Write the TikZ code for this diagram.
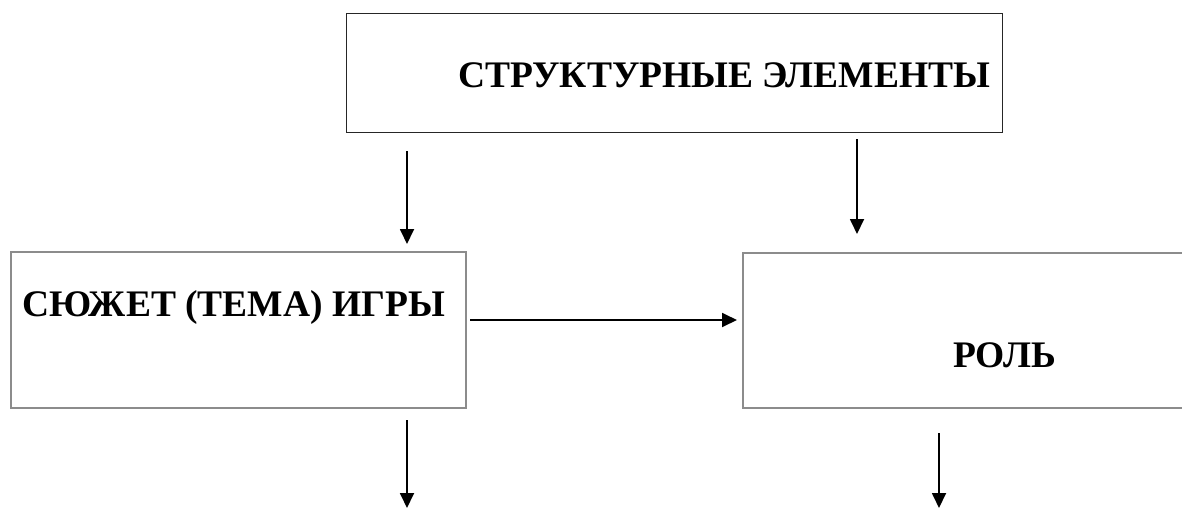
\documentclass[tikz,border=0pt]{standalone}
\usepackage{fontspec}
\setmainfont{Liberation Serif}
\usetikzlibrary{arrows.meta}
\tikzset{
  boxdark/.style={draw=black!85, line width=1.3pt, rectangle, inner sep=0pt, anchor=north west},
  boxlight/.style={draw=black!45, line width=1.8pt, rectangle, inner sep=0pt, anchor=north west},
  lbl/.style={anchor=base west, inner sep=0pt, font=\fontsize{37.5}{44}\selectfont\bfseries},
  arr/.style={draw=black, line width=1.8pt, -{Triangle[length=15pt,width=14pt]}}
}
\begin{document}
\begin{tikzpicture}[x=1pt,y=-1pt]
\useasboundingbox (0,0) rectangle (1182,509);
\clip (0,0) rectangle (1182,509);
% boxes
\node[boxdark, minimum width=656pt, minimum height=119pt] (top) at (346,13) {};
\node[boxlight, minimum width=455pt, minimum height=156pt] (left) at (10,251) {};
\node[boxlight, minimum width=470pt, minimum height=155pt] (right) at (742,252) {};
% labels
\node[lbl] (toplbl) at (458,87) {СТРУКТУРНЫЕ ЭЛЕМЕНТЫ};
\node[lbl] (leftlbl) at (22,316) {СЮЖЕТ (ТЕМА) ИГРЫ};
\node[lbl] (rightlbl) at (953,367) {РОЛЬ};
% connector end points
\coordinate (a1s) at (407,151);
\coordinate (a1e) at (407,244);
\coordinate (a2s) at (857,139);
\coordinate (a2e) at (857,234);
\coordinate (hs) at (470,320);
\coordinate (he) at (737,320);
\coordinate (b1s) at (407,420);
\coordinate (b1e) at (407,508);
\coordinate (b2s) at (939,433);
\coordinate (b2e) at (939,508);
% connectors
\draw[arr] (a1s) -- (a1e);
\draw[arr] (a2s) -- (a2e);
\draw[arr] (hs) -- (he);
\draw[arr] (b1s) -- (b1e);
\draw[arr] (b2s) -- (b2e);
\end{tikzpicture}
\end{document}
